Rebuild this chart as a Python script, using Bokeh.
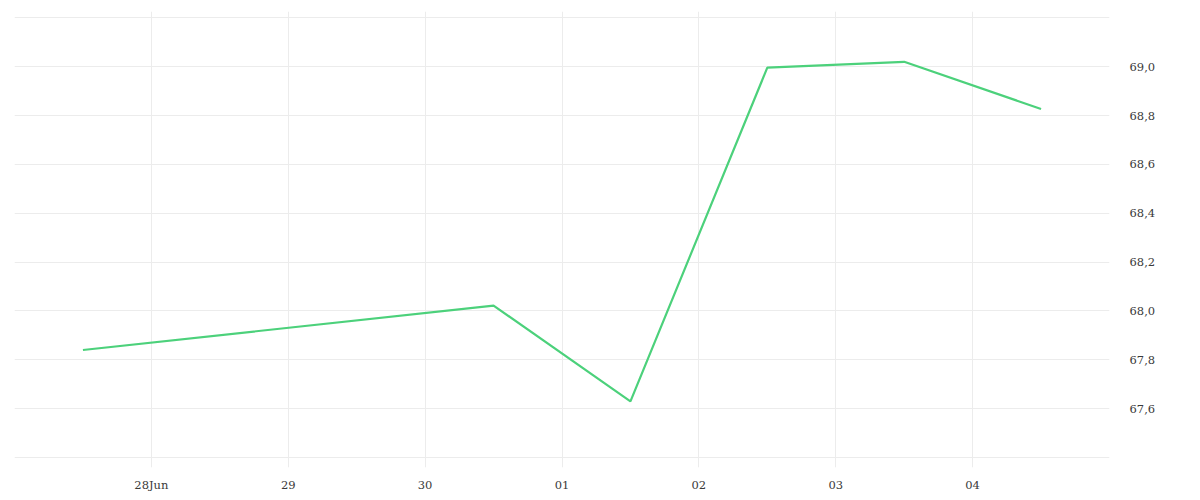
import pandas as pd

from bokeh.embed import file_html
from bokeh.models import CustomJSTickFormatter, FixedTicker, Range1d
from bokeh.plotting import figure
from bokeh.resources import INLINE


# daily closing values (weekend 28/29 Jun has no data)
dates = ["2025-06-27 12:00", "2025-06-30 12:00", "2025-07-01 12:00",
         "2025-07-02 12:00", "2025-07-03 12:00", "2025-07-04 12:00"]
values = [67.84, 68.022, 67.63, 68.996, 69.02, 68.827]

# x axis: one tick per day, labels as shown in the chart
x_tick_days = ["2025-06-27", "2025-06-28", "2025-06-29", "2025-06-30", "2025-07-01",
               "2025-07-02", "2025-07-03", "2025-07-04", "2025-07-05"]
x_tick_labels = ["", "28Jun", "29", "30", "01", "02", "03", "04", ""]

# y axis ticks (outer ones only draw a grid line)
y_ticks = [67.4, 67.6, 67.8, 68.0, 68.2, 68.4, 68.6, 68.8, 69.0, 69.2]

LINE_COLOR = "#4cd17b"
GRID_COLOR = "#ececec"
TEXT_COLOR = "#3a3a3a"
FONT = "DejaVu Serif"

x = pd.to_datetime(dates)
tick_ms = [pd.Timestamp(d).value / 10**6 for d in x_tick_days]

p = figure(
    x_axis_type="datetime",
    x_range=Range1d(tick_ms[0], tick_ms[-1]),
    y_range=Range1d(67.359, 69.226),
    y_axis_location="right",
    frame_width=1095,
    frame_height=456,
    min_border_left=14,
    min_border_top=11,
    min_border_right=60,
    min_border_bottom=20,
    background_fill_color="white",
    border_fill_color="white",
    outline_line_color=None,
    toolbar_location=None,
    output_backend="svg",
)

p.line(x, values, line_width=2.2, color=LINE_COLOR)

# x axis
p.xaxis.ticker = FixedTicker(ticks=tick_ms)
p.xaxis.major_label_overrides = {t: lbl for t, lbl in zip(tick_ms, x_tick_labels)}
p.xaxis.axis_line_color = None
p.xaxis.major_tick_line_color = None
p.xaxis.minor_tick_line_color = None
p.xaxis.major_label_standoff = 4

# y axis
p.yaxis.ticker = FixedTicker(ticks=y_ticks)
p.yaxis.formatter = CustomJSTickFormatter(code="""
    if (tick < 67.5 || tick > 69.1) { return ""; }
    return tick.toFixed(1).replace(".", ",");
""")
p.yaxis.axis_line_color = None
p.yaxis.major_tick_line_color = None
p.yaxis.minor_tick_line_color = None
p.yaxis.major_label_standoff = 14

for ax in (p.xaxis, p.yaxis):
    ax.major_label_text_font = FONT
    ax.major_label_text_font_size = "11.5px"
    ax.major_label_text_color = TEXT_COLOR

p.grid.grid_line_color = GRID_COLOR
p.grid.grid_line_width = 1

open("out.html", "w").write(file_html(p, INLINE))
